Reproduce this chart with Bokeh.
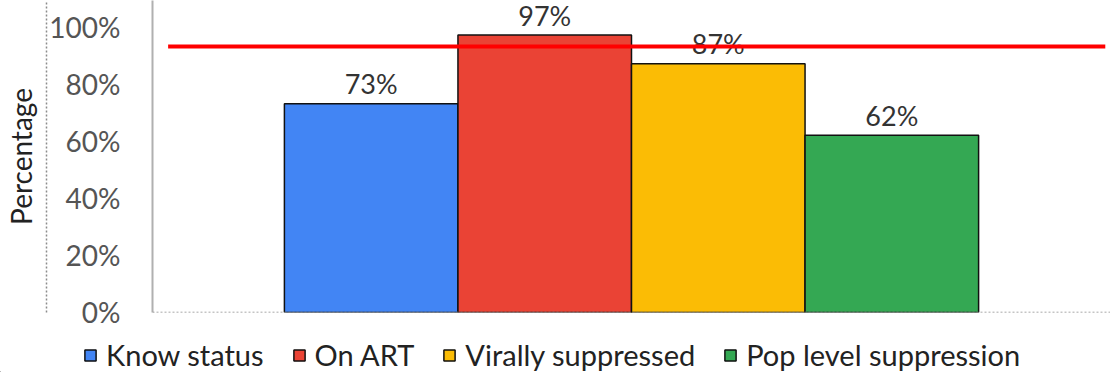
from bokeh.plotting import figure
from bokeh.layouts import column
from bokeh.models import (ColumnDataSource, Range1d, FixedTicker, NumeralTickFormatter,
                          Legend, LegendItem, LinearAxis, Span)
from bokeh.embed import file_html
from bokeh.resources import INLINE
from bokeh.core.properties import value

# ---- data ----
categories = ["Know status", "On ART", "Virally suppressed", "Pop level suppression"]
percentages = [0.73, 0.97, 0.87, 0.62]
bar_labels = ["73%", "97%", "87%", "62%"]
colors = ["#4285F4", "#EA4335", "#FBBC05", "#34A853"]
target = 0.93
y_ticks = [0, 0.2, 0.4, 0.6, 0.8, 1.0]

FONT = "Lato"
x_start, x_end = -0.26, 5.26

xs = [i + 1 for i in range(len(categories))]
src = ColumnDataSource(dict(x=xs, top=percentages, cat=categories, color=colors, label=bar_labels))

p = figure(frame_width=958, frame_height=312, output_backend="svg", toolbar_location=None,
           x_range=Range1d(x_start, x_end), y_range=Range1d(0, 1.091),
           min_border_left=152, min_border_right=0, min_border_top=0, min_border_bottom=16)
p.outline_line_color = None
p.grid.visible = False
p.background_fill_color = "white"
p.border_fill_color = "white"
p.xaxis.visible = False

# dotted baseline
p.add_layout(Span(location=0, dimension="width", line_color="#8c8c8c", line_width=1.5, line_dash="2 2"))

# y axis (gray solid line with % labels)
yax = p.yaxis[0]
yax.ticker = FixedTicker(ticks=y_ticks)
yax.formatter = NumeralTickFormatter(format="0%")
yax.axis_line_color = "#b0b0b0"
yax.axis_line_width = 2
yax.major_tick_line_color = None
yax.minor_tick_line_color = None
yax.major_tick_out = 0
yax.major_tick_in = 0
yax.major_label_standoff = 32
yax.major_label_text_font = FONT
yax.major_label_text_font_size = "28px"
yax.major_label_text_color = "#555555"

# outer dotted axis carrying the title
yax2 = LinearAxis(ticker=FixedTicker(ticks=[]), axis_line_color="#8c8c8c", axis_line_width=1.5,
                  axis_line_dash="2 2", major_tick_line_color=None, minor_tick_line_color=None,
                  major_label_text_font_size="0px",
                  axis_label="Percentage", axis_label_text_font=FONT,
                  axis_label_text_font_size="28px", axis_label_text_font_style="normal",
                  axis_label_text_color="#222222", axis_label_standoff=9)
p.add_layout(yax2, "left")

bars = p.vbar(x="x", top="top", width=1.0, bottom=0, source=src,
              fill_color="color", line_color="#111111", line_width=1.5)

p.text(x="x", y="top", text="label", source=src, text_align="center",
       text_baseline="middle", y_offset=-20, text_font=value(FONT),
       text_font_size="27px", text_color="#333333")

p.line(x=[x_start + 0.09, x_end - 0.03], y=[target, target], line_color="#ff0000", line_width=4)

# ---- legend strip below the chart ----
lg = figure(width=1110, height=44, output_backend="svg", toolbar_location=None,
            x_range=Range1d(100, 101), y_range=Range1d(100, 101),
            min_border_left=0, min_border_right=0, min_border_top=0, min_border_bottom=0)
lg.axis.visible = False
lg.grid.visible = False
lg.outline_line_color = None
lg.border_fill_color = "white"
lg.background_fill_color = "white"
lg_bars = lg.vbar(x="x", top="top", width=1.0, bottom=0, source=src,
                  fill_color="color", line_color="#111111", line_width=1.5)
items = [LegendItem(label=c, renderers=[lg_bars], index=i) for i, c in enumerate(categories)]
legend = Legend(items=items, orientation="horizontal", location=(0, 0),
                padding=0, margin=0, spacing=28, label_standoff=9,
                glyph_width=14, glyph_height=14,
                label_text_font=FONT, label_text_font_size="29px", label_text_color="#222222",
                border_line_alpha=0, background_fill_alpha=0)
lg.add_layout(legend, "center")

if "frame_align" in lg.properties():
    lg.frame_align = False
    p.frame_align = False
    legend.location = (83, 0)

layout = column(p, lg, spacing=0)
open("out.html", "w").write(file_html(layout, INLINE))
